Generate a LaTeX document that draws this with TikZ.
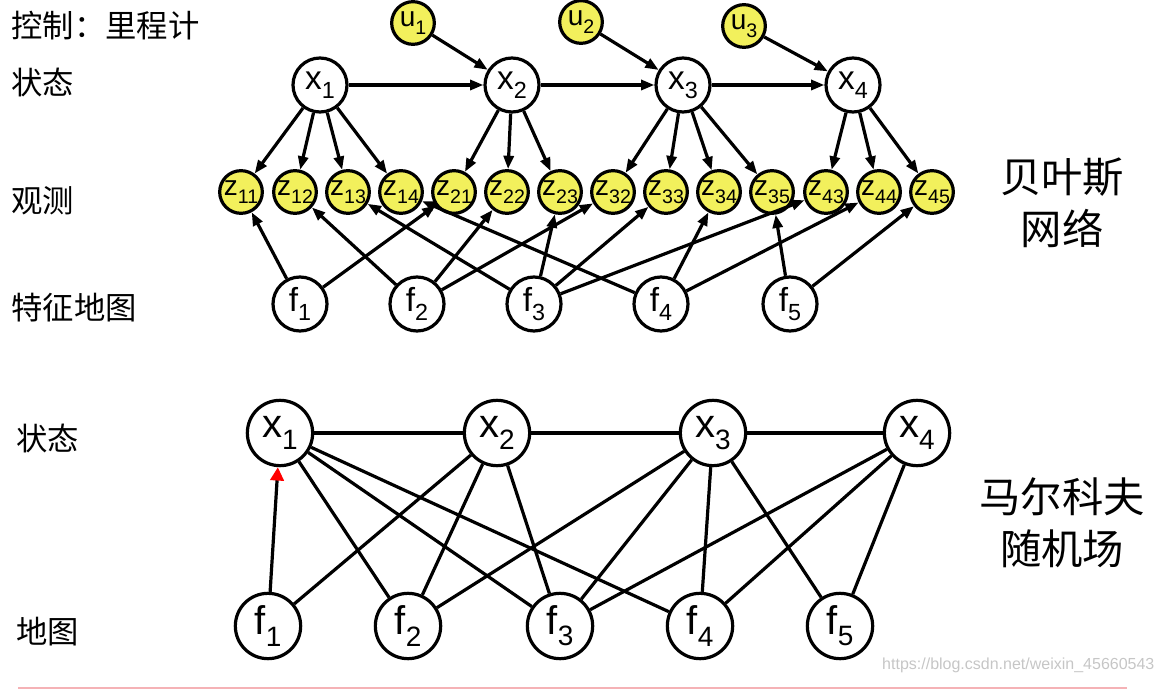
\documentclass[tikz,border=0pt]{standalone}
\usepackage{fontspec}
\setmainfont{Liberation Sans}
\newfontfamily\cjk{Noto Sans CJK SC}
\usetikzlibrary{arrows.meta}
\definecolor{obsyellow}{RGB}{242,240,92}
\definecolor{rulepink}{RGB}{245,178,182}
\newcommand\low[1]{\raisebox{-0.28em}{\scalebox{0.7}{#1}}}

\begin{document}
\begin{tikzpicture}[x=0.75pt, y=-0.75pt, line width=2.4pt,
  st/.style={circle, draw, fill=white, minimum size=40.5pt, inner sep=0pt, font=\fontsize{25}{25}\selectfont},
  obs/.style={circle, draw, fill=obsyellow, minimum size=32pt, inner sep=0pt, font=\fontsize{21}{21}\selectfont},
  mrf/.style={circle, draw, fill=white, minimum size=49pt, inner sep=0pt, font=\fontsize{30}{30}\selectfont},
  lab/.style={anchor=west, inner sep=0pt, font=\cjk\fontsize{23.5}{23.5}\selectfont},
  big/.style={align=center, inner sep=0pt, font=\cjk\fontsize{31}{39}\selectfont},
  arr/.style={-{Triangle[length=10pt,width=7.5pt]}}]
  \useasboundingbox (0,0) rectangle (1162,691);
  % Row labels
  \node[lab] (lctl) at (10,26)  {控制：里程计};
  \node[lab] (lst)  at (10,83)  {状态};
  \node[lab] (lobs) at (10,201) {观测};
  \node[lab] (lmap) at (10,308) {特征地图};
  \node[lab] (lmst) at (15,438) {状态};
  \node[lab] (lmmp) at (15,632) {地图};
  \node[big] (bn)  at (1062,203) {贝叶斯\\网络};
  \node[big] (mrf) at (1062,523) {马尔科夫\\随机场};
  % Controls
  \node[obs] (u1) at (413,23) {u\low{1}};
  \node[obs] (u2) at (581,22) {u\low{2}};
  \node[obs] (u3) at (744,26) {u\low{3}};
  % States
  \node[st] (x1) at (320,85) {x\low{1}};
  \node[st] (x2) at (512,85) {x\low{2}};
  \node[st] (x3) at (683,85) {x\low{3}};
  \node[st] (x4) at (853,85) {x\low{4}};
  % Observations
  \node[obs] (z11) at (241,192) {z\low{11}};
  \node[obs] (z12) at (295,192) {z\low{12}};
  \node[obs] (z13) at (348,192) {z\low{13}};
  \node[obs] (z14) at (401,192) {z\low{14}};
  \node[obs] (z21) at (454,192) {z\low{21}};
  \node[obs] (z22) at (507,192) {z\low{22}};
  \node[obs] (z23) at (560,192) {z\low{23}};
  \node[obs] (z32) at (613,192) {z\low{32}};
  \node[obs] (z33) at (666,192) {z\low{33}};
  \node[obs] (z34) at (719,192) {z\low{34}};
  \node[obs] (z35) at (772,192) {z\low{35}};
  \node[obs] (z43) at (826,192) {z\low{43}};
  \node[obs] (z44) at (879,192) {z\low{44}};
  \node[obs] (z45) at (932,192) {z\low{45}};
  % Features
  \node[st] (f1) at (300,304) {f\low{1}};
  \node[st] (f2) at (417,304) {f\low{2}};
  \node[st] (f3) at (534,304) {f\low{3}};
  \node[st] (f4) at (661,304) {f\low{4}};
  \node[st] (f5) at (790,304) {f\low{5}};
  % Arrows
  \draw[arr] (u1)--(x2);
  \draw[arr] (u2)--(x3);
  \draw[arr] (u3)--(x4);
  \draw[arr] (x1)--(x2);
  \draw[arr] (x2)--(x3);
  \draw[arr] (x3)--(x4);
  \draw[arr] (x1)--(z11);
  \draw[arr] (x1)--(z12);
  \draw[arr] (x1)--(z13);
  \draw[arr] (x1)--(z14);
  \draw[arr] (x2)--(z21);
  \draw[arr] (x2)--(z22);
  \draw[arr] (x2)--(z23);
  \draw[arr] (x3)--(z32);
  \draw[arr] (x3)--(z33);
  \draw[arr] (x3)--(z34);
  \draw[arr] (x3)--(z35);
  \draw[arr] (x4)--(z43);
  \draw[arr] (x4)--(z44);
  \draw[arr] (x4)--(z45);
  \draw[arr] (f1)--(z11);
  \draw[arr] (f1)--(z21);
  \draw[arr] (f2)--(z12);
  \draw[arr] (f2)--(z22);
  \draw[arr] (f2)--(z32);
  \draw[arr] (f3)--(z13);
  \draw[arr] (f3)--(z23);
  \draw[arr] (f3)--(z33);
  \draw[arr] (f3)--(z43);
  \draw[arr] (f4)--(z14);
  \draw[arr] (f4)--(z34);
  \draw[arr] (f4)--(z44);
  \draw[arr] (f5)--(z35);
  \draw[arr] (f5)--(z45);
  % Markov random field
  \node[mrf] (mx1) at (280,433) {x\low{1}};
  \node[mrf] (mx2) at (497,433) {x\low{2}};
  \node[mrf] (mx3) at (713,433) {x\low{3}};
  \node[mrf] (mx4) at (917,433) {x\low{4}};
  \node[mrf] (mf1) at (268,626) {f\low{1}};
  \node[mrf] (mf2) at (408,626) {f\low{2}};
  \node[mrf] (mf3) at (560,626) {f\low{3}};
  \node[mrf] (mf4) at (700,626) {f\low{4}};
  \node[mrf] (mf5) at (840,626) {f\low{5}};
  \draw (mx1)--(mx2);
  \draw (mx2)--(mx3);
  \draw (mx3)--(mx4);
  \draw[-{Triangle[color=red,length=10pt,width=10pt]}] (mf1)--(mx1);
  \draw (mx1)--(mf2);
  \draw (mx1)--(mf3);
  \draw (mx1)--(mf4);
  \draw (mx2)--(mf1);
  \draw (mx2)--(mf2);
  \draw (mx2)--(mf3);
  \draw (mx3)--(mf2);
  \draw (mx3)--(mf3);
  \draw (mx3)--(mf4);
  \draw (mx3)--(mf5);
  \draw (mx4)--(mf3);
  \draw (mx4)--(mf4);
  \draw (mx4)--(mf5);
  % Footer
  \node[anchor=east, inner sep=0pt, text=gray!45, font=\fontsize{12}{12}\selectfont] (wm) at (1156,665) {https://blog.csdn.net/weixin\_45660543};
  \draw[rulepink, line width=1.5pt] (18,688) -- (1127,688);
\end{tikzpicture}
\end{document}
